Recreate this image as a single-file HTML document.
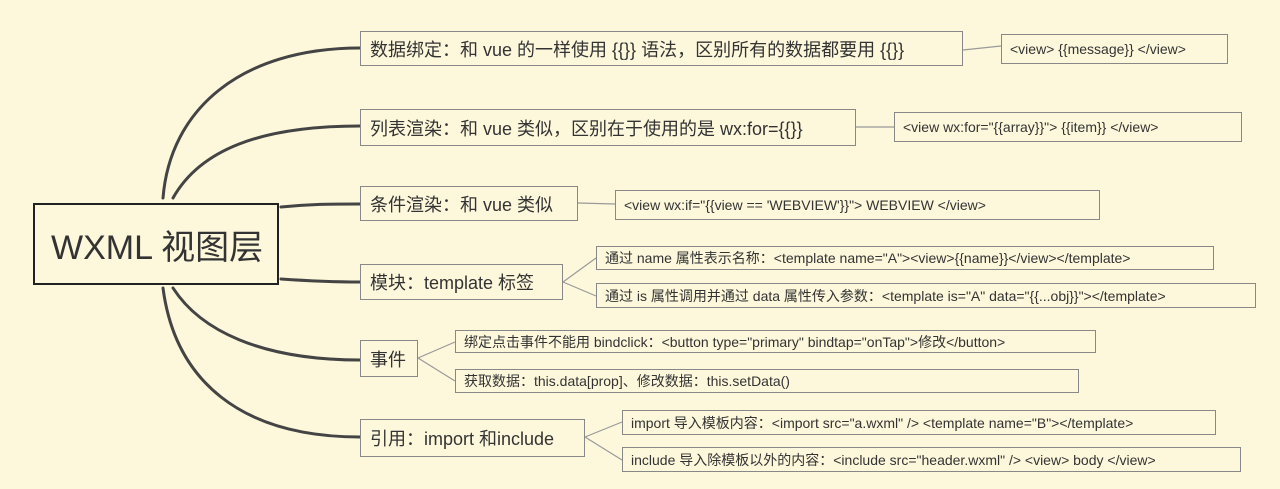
<!DOCTYPE html>
<html><head><meta charset="utf-8"><style>
body{margin:0;width:1280px;height:489px;background:#fdf8dc;position:relative;overflow:hidden;font-family:"Liberation Sans","Noto Sans CJK SC",sans-serif;color:#333}
.b{position:absolute;box-sizing:border-box;border:1.5px solid #777;background:#fdf8dc;white-space:nowrap;display:flex;align-items:center;padding-left:9px}
.m{font-size:18px;border-color:#888}
.s{font-size:14px;border-color:#888;padding-left:8px}
svg{position:absolute;left:0;top:0}
</style></head><body>
<svg width="1280" height="489">
<g fill="none" stroke="#444" stroke-width="3" stroke-linecap="round">
<path d="M163 198 C170 110 240 48 360 48"/>
<path d="M173 198 C200 150 260 126 360 126"/>
<path d="M281 207 C310 204 330 204 360 204"/>
<path d="M281 279 C310 281 330 282 360 282"/>
<path d="M173 288 C200 330 260 360 360 360"/>
<path d="M163 288 C175 380 240 437 360 437"/>
</g>
<g fill="none" stroke="#999" stroke-width="1.2">
<path d="M963 50 L1001 46"/>
<path d="M856 127 L894 127"/>
<path d="M578 203 L615 204"/>
<path d="M563 282 L596 258"/><path d="M563 282 L596 296"/>
<path d="M418 358 L455 342"/><path d="M418 358 L455 381"/>
<path d="M585 437 L622 422"/><path d="M585 437 L622 460"/>
</g>
</svg>
<div class="b" style="left:33px;top:203px;width:246px;height:82px;border:2px solid #222;font-size:34px;padding-left:16px;color:#333">WXML 视图层</div>
<div class="b m" style="left:360px;top:31px;width:603px;height:35px">数据绑定：和 vue 的一样使用 {{}} 语法，区别所有的数据都要用 {{}}</div>
<div class="b s" style="left:1001px;top:34px;width:227px;height:30px">&lt;view&gt; {{message}} &lt;/view&gt;</div>
<div class="b m" style="left:360px;top:109px;width:496px;height:37px">列表渲染：和 vue 类似，区别在于使用的是 wx:for={{}}</div>
<div class="b s" style="left:894px;top:112px;width:348px;height:30px">&lt;view wx:for="{{array}}"&gt; {{item}} &lt;/view&gt;</div>
<div class="b m" style="left:360px;top:186px;width:218px;height:35px">条件渲染：和 vue 类似</div>
<div class="b s" style="left:615px;top:190px;width:485px;height:30px">&lt;view wx:if="{{view == 'WEBVIEW'}}"&gt; WEBVIEW &lt;/view&gt;</div>
<div class="b m" style="left:360px;top:264px;width:203px;height:36px">模块：template 标签</div>
<div class="b s" style="left:596px;top:246px;width:618px;height:24px">通过 name 属性表示名称：&lt;template name="A"&gt;&lt;view&gt;{{name}}&lt;/view&gt;&lt;/template&gt;</div>
<div class="b s" style="left:596px;top:283px;width:660px;height:25px">通过 is 属性调用并通过 data 属性传入参数：&lt;template is="A" data="{{...obj}}"&gt;&lt;/template&gt;</div>
<div class="b m" style="left:360px;top:340px;width:58px;height:37px">事件</div>
<div class="b s" style="left:455px;top:330px;width:641px;height:23px">绑定点击事件不能用 bindclick：&lt;button type="primary" bindtap="onTap"&gt;修改&lt;/button&gt;</div>
<div class="b s" style="left:455px;top:369px;width:624px;height:24px">获取数据：this.data[prop]、修改数据：this.setData()</div>
<div class="b m" style="left:360px;top:419px;width:225px;height:38px">引用：import 和include</div>
<div class="b s" style="left:622px;top:410px;width:594px;height:25px">import 导入模板内容：&lt;import src="a.wxml" /&gt; &lt;template name="B"&gt;&lt;/template&gt;</div>
<div class="b s" style="left:622px;top:447px;width:619px;height:25px">include 导入除模板以外的内容：&lt;include src="header.wxml" /&gt; &lt;view&gt; body &lt;/view&gt;</div>
</body></html>
